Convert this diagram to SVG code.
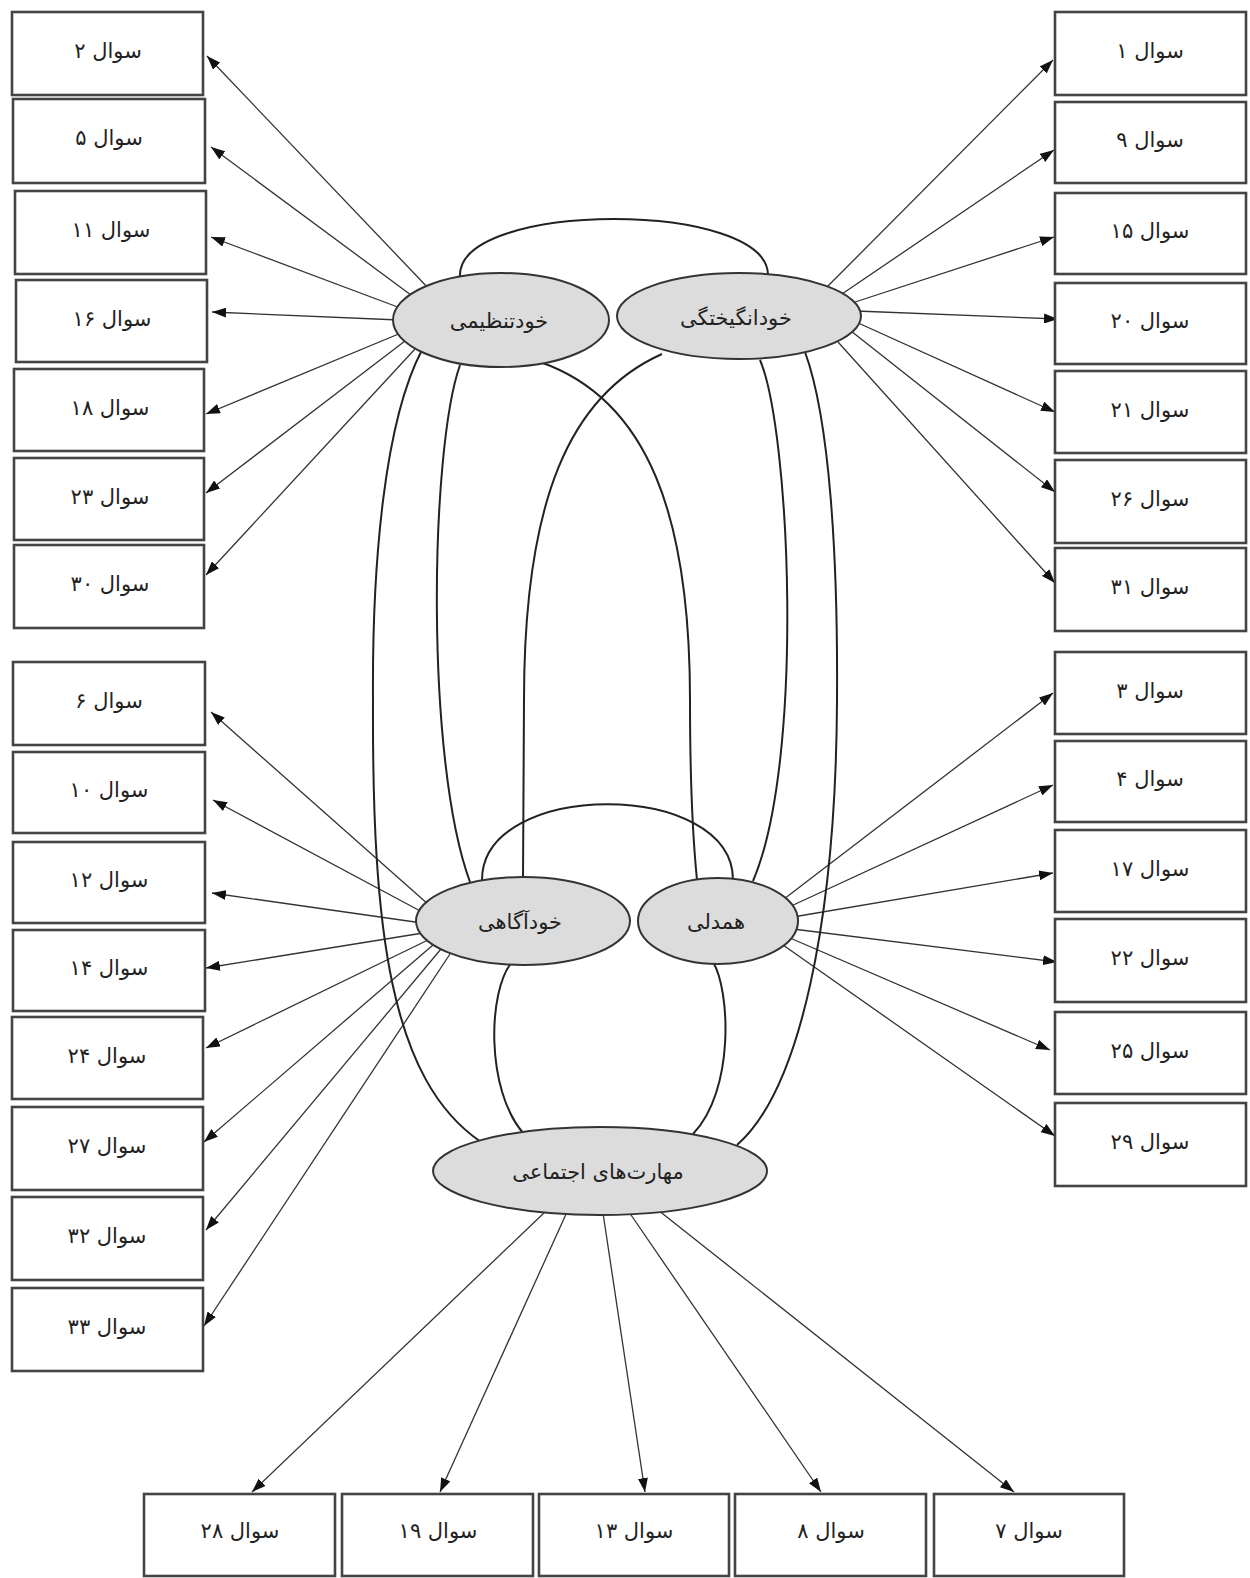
<svg xmlns="http://www.w3.org/2000/svg" width="1250" height="1578" viewBox="0 0 1250 1578">
<style>
.box rect{fill:#fff;stroke:#444;stroke-width:2.6}
.box text,.lat text{font-family:"DejaVu Sans",sans-serif;font-size:21px;fill:#222;text-anchor:middle}
.lat ellipse{fill:#dcdcdc;stroke:#333;stroke-width:2}
.arr line{stroke:#333;stroke-width:1.3;marker-end:url(#ah)}
.cov path{fill:none;stroke:#222;stroke-width:2}
</style>
<defs>
<marker id="ah" markerUnits="userSpaceOnUse" markerWidth="14" markerHeight="10" refX="14" refY="5" orient="auto"><path d="M0,0 L14,5 L0,10 z" fill="#111"/></marker>
</defs>
<rect width="1250" height="1578" fill="#fff"/>
<g id="connectors">
<g class="arr">
<line x1="430" y1="290" x2="207" y2="56"/>
<line x1="415" y1="298" x2="211" y2="147"/>
<line x1="403" y1="309" x2="211" y2="237"/>
<line x1="399" y1="320" x2="212" y2="312"/>
<line x1="401" y1="333" x2="206" y2="414"/>
<line x1="405" y1="341" x2="206" y2="493"/>
<line x1="415" y1="349" x2="206" y2="575"/>
<line x1="825" y1="289" x2="1053" y2="60"/>
<line x1="839" y1="296" x2="1054" y2="150"/>
<line x1="849" y1="304" x2="1054" y2="237"/>
<line x1="856" y1="311" x2="1058" y2="319"/>
<line x1="856" y1="322" x2="1055" y2="412"/>
<line x1="851" y1="331" x2="1055" y2="492"/>
<line x1="838" y1="342" x2="1055" y2="583"/>
<line x1="429" y1="905" x2="211" y2="712"/>
<line x1="424" y1="913" x2="213" y2="800"/>
<line x1="422" y1="923" x2="212" y2="893"/>
<line x1="423" y1="933" x2="206" y2="968"/>
<line x1="428" y1="940" x2="206" y2="1048"/>
<line x1="433" y1="945" x2="204" y2="1142"/>
<line x1="441" y1="949" x2="206" y2="1230"/>
<line x1="450" y1="954" x2="204" y2="1326"/>
<line x1="784" y1="899" x2="1053" y2="693"/>
<line x1="789" y1="907" x2="1053" y2="785"/>
<line x1="793" y1="917" x2="1053" y2="873"/>
<line x1="793" y1="929" x2="1057" y2="962"/>
<line x1="790" y1="938" x2="1050" y2="1050"/>
<line x1="783" y1="945" x2="1055" y2="1136"/>
<line x1="546" y1="1211" x2="252" y2="1492"/>
<line x1="567" y1="1212" x2="440" y2="1492"/>
<line x1="603" y1="1213" x2="645" y2="1492"/>
<line x1="629" y1="1212" x2="821" y2="1492"/>
<line x1="658" y1="1210" x2="1014" y2="1492"/>
</g>
<g class="cov">
<path d="M460,276 C458,200 770,200 768,276"/>
<path d="M482,880 C482,779 733,779 733,880"/>
<path d="M422,350 C385,420 372,560 373,700 C372,930 390,1080 481,1142"/>
<path d="M460,365 C430,450 425,760 470,882"/>
<path d="M540,362 C650,400 690,520 690,700 C690,800 694,850 697,880"/>
<path d="M662,354 C570,395 524,500 524,700 C524,800 523,850 523,880"/>
<path d="M760,360 C790,430 805,760 753,881"/>
<path d="M805,352 C830,420 838,560 837,700 C836,920 800,1090 737,1145"/>
<path d="M512,962 C488,990 485,1090 524,1134"/>
<path d="M713,962 C730,990 735,1090 693,1134"/>
</g>
</g>
<g class="lat">
<g id="n-selfreg"><ellipse cx="501" cy="320" rx="108" ry="47"/><text x="499" y="328">خودتنظیمی</text></g>
<g id="n-motiv"><ellipse cx="739" cy="316" rx="122" ry="43"/><text x="736" y="325">خودانگیختگی</text></g>
<g id="n-aware"><ellipse cx="523" cy="921" rx="107" ry="44"/><text x="520" y="929">خودآگاهی</text></g>
<g id="n-empathy"><ellipse cx="718" cy="921" rx="80" ry="43"/><text x="716" y="929">همدلی</text></g>
<g id="n-social"><ellipse cx="600" cy="1171" rx="167" ry="44"/><text x="598" y="1179">مهارت‌های اجتماعی</text></g>
</g>
<g class="box">
<g id="q2"><rect x="12" y="12" width="191" height="83"/><text x="108" y="58">سوال ۲</text></g>
<g id="q5"><rect x="13" y="99" width="192" height="84"/><text x="109" y="145">سوال ۵</text></g>
<g id="q11"><rect x="15" y="191" width="191" height="83"/><text x="111" y="237">سوال ۱۱</text></g>
<g id="q16"><rect x="16" y="280" width="191" height="82"/><text x="112" y="326">سوال ۱۶</text></g>
<g id="q18"><rect x="14" y="369" width="190" height="82"/><text x="110" y="415">سوال ۱۸</text></g>
<g id="q23"><rect x="14" y="458" width="190" height="82"/><text x="110" y="504">سوال ۲۳</text></g>
<g id="q30"><rect x="14" y="545" width="190" height="83"/><text x="110" y="591">سوال ۳۰</text></g>
<g id="q6"><rect x="13" y="662" width="192" height="83"/><text x="109" y="708">سوال ۶</text></g>
<g id="q10"><rect x="13" y="752" width="192" height="81"/><text x="109" y="797">سوال ۱۰</text></g>
<g id="q12"><rect x="13" y="842" width="192" height="81"/><text x="109" y="887">سوال ۱۲</text></g>
<g id="q14"><rect x="13" y="930" width="192" height="81"/><text x="109" y="975">سوال ۱۴</text></g>
<g id="q24"><rect x="12" y="1017" width="191" height="82"/><text x="107" y="1063">سوال ۲۴</text></g>
<g id="q27"><rect x="12" y="1107" width="191" height="83"/><text x="107" y="1153">سوال ۲۷</text></g>
<g id="q32"><rect x="12" y="1197" width="191" height="83"/><text x="107" y="1243">سوال ۳۲</text></g>
<g id="q33"><rect x="12" y="1288" width="191" height="83"/><text x="107" y="1334">سوال ۳۳</text></g>
<g id="q1"><rect x="1055" y="12" width="191" height="83"/><text x="1150" y="58">سوال ۱</text></g>
<g id="q9"><rect x="1055" y="102" width="191" height="81"/><text x="1150" y="147">سوال ۹</text></g>
<g id="q15"><rect x="1055" y="193" width="191" height="81"/><text x="1150" y="238">سوال ۱۵</text></g>
<g id="q20"><rect x="1055" y="283" width="191" height="81"/><text x="1150" y="328">سوال ۲۰</text></g>
<g id="q21"><rect x="1055" y="371" width="191" height="82"/><text x="1150" y="417">سوال ۲۱</text></g>
<g id="q26"><rect x="1055" y="460" width="191" height="83"/><text x="1150" y="506">سوال ۲۶</text></g>
<g id="q31"><rect x="1055" y="548" width="191" height="83"/><text x="1150" y="594">سوال ۳۱</text></g>
<g id="q3"><rect x="1055" y="652" width="191" height="82"/><text x="1150" y="698">سوال ۳</text></g>
<g id="q4"><rect x="1055" y="741" width="191" height="81"/><text x="1150" y="786">سوال ۴</text></g>
<g id="q17"><rect x="1055" y="830" width="191" height="82"/><text x="1150" y="876">سوال ۱۷</text></g>
<g id="q22"><rect x="1055" y="919" width="191" height="83"/><text x="1150" y="965">سوال ۲۲</text></g>
<g id="q25"><rect x="1055" y="1012" width="191" height="82"/><text x="1150" y="1058">سوال ۲۵</text></g>
<g id="q29"><rect x="1055" y="1103" width="191" height="83"/><text x="1150" y="1149">سوال ۲۹</text></g>
<g id="q28"><rect x="144" y="1494" width="191" height="82"/><text x="240" y="1538">سوال ۲۸</text></g>
<g id="q19"><rect x="342" y="1494" width="191" height="82"/><text x="438" y="1538">سوال ۱۹</text></g>
<g id="q13"><rect x="539" y="1494" width="190" height="82"/><text x="634" y="1538">سوال ۱۳</text></g>
<g id="q8"><rect x="735" y="1494" width="191" height="82"/><text x="831" y="1538">سوال ۸</text></g>
<g id="q7"><rect x="934" y="1494" width="190" height="82"/><text x="1029" y="1538">سوال ۷</text></g>
</g>
</svg>
